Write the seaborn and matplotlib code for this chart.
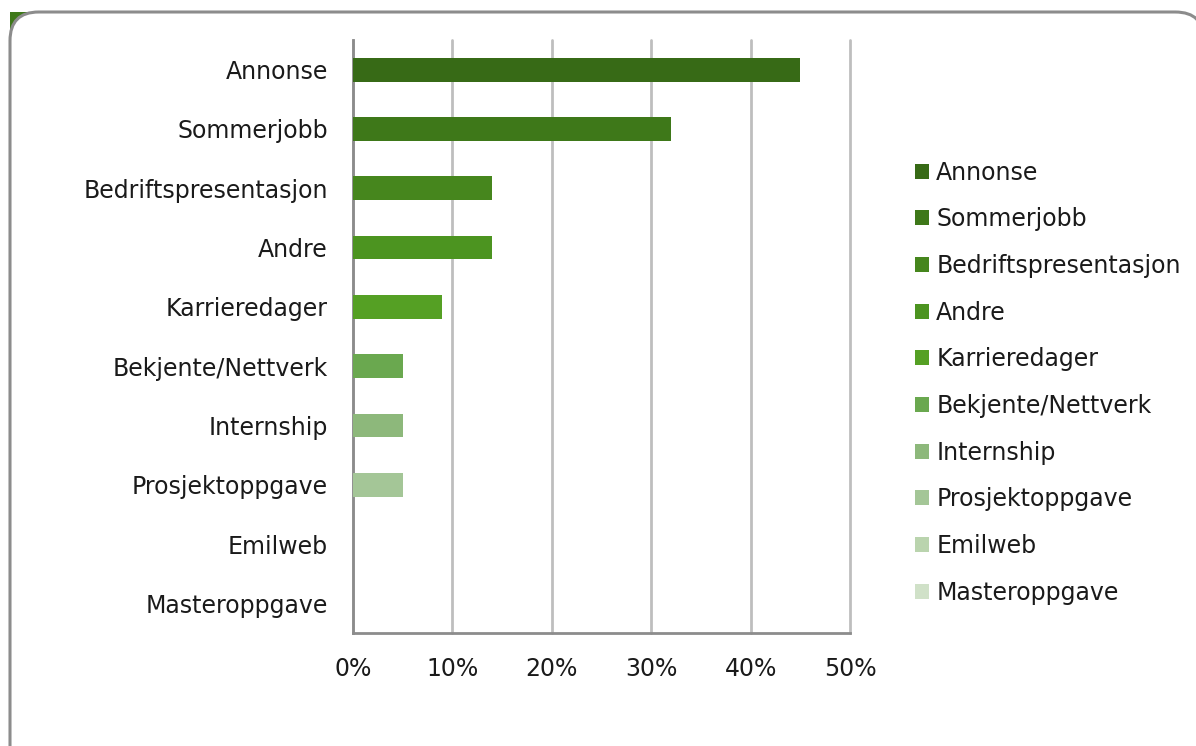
import matplotlib
matplotlib.use("Agg")
import matplotlib.pyplot as plt
import seaborn as sns
import pandas as pd
from matplotlib.patches import FancyBboxPatch, Rectangle
from matplotlib.ticker import FuncFormatter

categories = ["Annonse", "Sommerjobb", "Bedriftspresentasjon", "Andre", "Karrieredager",
              "Bekjente/Nettverk", "Internship", "Prosjektoppgave", "Emilweb", "Masteroppgave"]
values = [45, 32, 14, 14, 9, 5, 5, 5, 0, 0]
colors = ["#376A16", "#3E7819", "#46861D", "#4C9420", "#55A024",
          "#6AA84F", "#8DB87B", "#A4C697", "#BAD4AE", "#D0E1C8"]
xticks = [0, 10, 20, 30, 40, 50]

sns.set_theme(style="white")
plt.rcParams['font.family'] = ['DejaVu Sans']

df = pd.DataFrame({"kategori": categories, "andel": values})

W, H = 1196, 746
fig = plt.figure(figsize=(W / 100, H / 100), dpi=100)
ax = fig.add_axes([353 / W, 1 - 633 / H, 497 / W, 593 / H])
ax.set_zorder(5)

# green corner accent behind the outer rounded frame
fig.patches.append(Rectangle((10 / W, 1 - 32 / H), 20 / W, 20 / H,
                             transform=fig.transFigure, facecolor="#3E7819",
                             edgecolor="none", zorder=0))
frame = FancyBboxPatch((10 / W, -40 / H), 1194 / W, (H - 12 + 40) / H,
                       boxstyle="round,pad=0,rounding_size=0.024",
                       mutation_aspect=W / H,
                       transform=fig.transFigure, facecolor="white",
                       edgecolor="#8C8C8C", linewidth=2.2, zorder=0.5)
fig.patches.append(frame)

sns.barplot(data=df, y="kategori", x="andel", hue="kategori", order=categories,
            hue_order=categories, palette=colors, dodge=False, width=0.4,
            legend=True, ax=ax, zorder=3, saturation=1, linewidth=0)

ax.set_xlim(0, 50)
ax.set_xticks(xticks)
ax.xaxis.set_major_formatter(FuncFormatter(lambda v, p: f"{int(v)}%"))
ax.set_xlabel("")
ax.set_ylabel("")
ax.grid(axis="x", color="#BEBEBE", linewidth=2, zorder=0)
for gl in ax.get_xgridlines():
    gl.set_clip_on(False)
ax.set_axisbelow(True)
ax.patch.set_alpha(0)
for s in ["top", "right"]:
    ax.spines[s].set_visible(False)
for s in ["left", "bottom"]:
    ax.spines[s].set_color("#8C8C8C")
    ax.spines[s].set_linewidth(2)
ax.tick_params(axis="y", length=0, pad=18, labelsize=17, labelcolor="#1a1a1a")
ax.tick_params(axis="x", length=0, pad=17, labelsize=17, labelcolor="#1a1a1a")

leg = ax.legend(loc="center left", bbox_to_anchor=((915 - 353) / 497, 1 - (382.5 - 40) / 593),
                frameon=False, fontsize=17, handlelength=0.6, handleheight=0.6,
                handletextpad=0.3, labelspacing=0.96, borderaxespad=0, borderpad=0)
for t in leg.get_texts():
    t.set_color("#1a1a1a")

fig.savefig("out.png", dpi=100)
